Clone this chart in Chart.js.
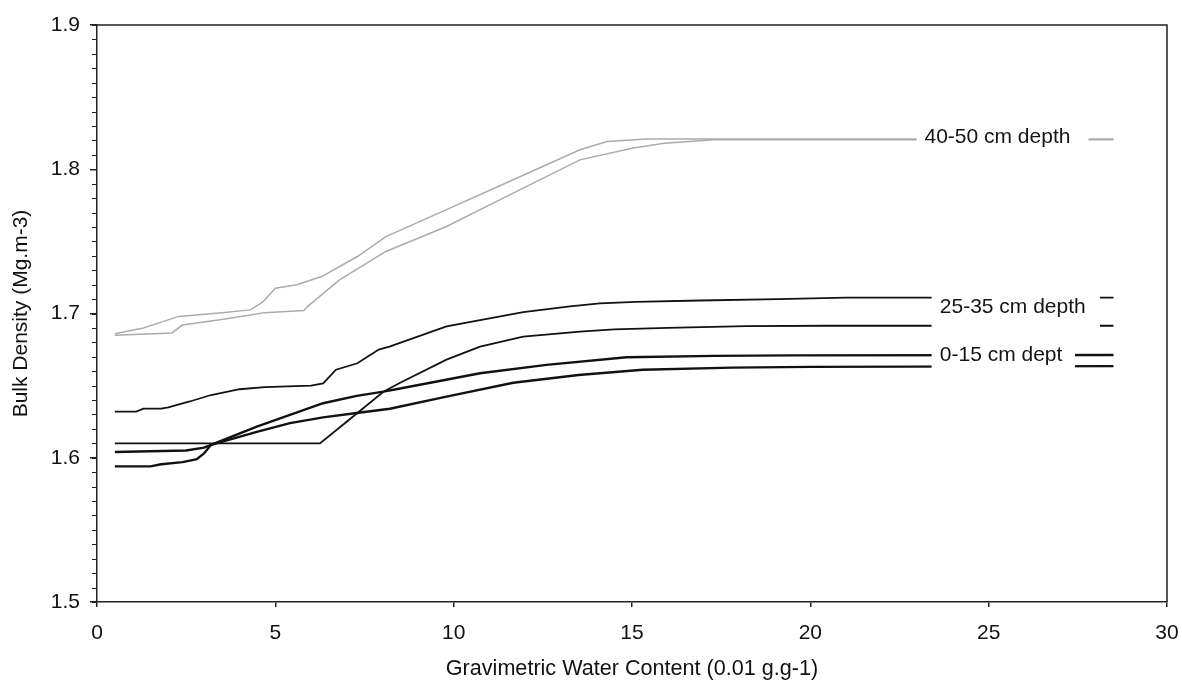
<!DOCTYPE html>
<html>
<head>
<meta charset="utf-8">
<title>Bulk Density vs Gravimetric Water Content</title>
<script src="https://cdn.jsdelivr.net/npm/chart.js@4/dist/chart.umd.min.js"></script>
<style>
  html, body { margin: 0; padding: 0; background: #ffffff; }
  #wrap { width: 1182px; height: 686px; position: relative; }
</style>
</head>
<body>
<div id="wrap"><canvas id="chart" width="1182" height="686"></canvas></div>
<script>
// Gravimetric water content (0.01 g.g-1) and bulk density (Mg.m-3) for each curve

// 40-50 cm depth, two curves
const wc_40_50_a = [0.5, 1.3, 1.8, 2.3, 3.5, 4.3, 4.65, 5.0, 5.6, 6.3, 7.3, 8.1, 9.8, 11.67, 13.54, 14.3, 15.4, 28.5];
const bd_40_50_a = [1.686, 1.690, 1.694, 1.698, 1.7005, 1.7025, 1.708, 1.7175, 1.720, 1.7256, 1.7395, 1.7533, 1.772, 1.7927, 1.8135, 1.8192, 1.821, 1.821];
const wc_40_50_b = [0.5, 2.1, 2.4, 3.4, 4.3, 4.7, 5.8, 5.9, 6.8, 8.1, 9.8, 11.67, 13.54, 15.0, 15.9, 17.3, 28.5];
const bd_40_50_b = [1.685, 1.6865, 1.692, 1.6955, 1.699, 1.7006, 1.702, 1.7048, 1.7233, 1.743, 1.7603, 1.7834, 1.8065, 1.8146, 1.818, 1.8205, 1.8205];

// 25-35 cm depth, two curves
const wc_25_35_a = [0.5, 1.1, 1.3, 1.8, 2.0, 2.6, 3.2, 4.0, 4.7, 6.0, 6.34, 6.7, 7.3, 7.9, 8.2, 9.8, 11.95, 13.26, 14.1, 15.1, 16.9, 19.1, 21.0, 28.5];
const bd_25_35_a = [1.632, 1.632, 1.634, 1.634, 1.635, 1.639, 1.6435, 1.6475, 1.649, 1.650, 1.6515, 1.661, 1.6655, 1.675, 1.677, 1.691, 1.701, 1.705, 1.707, 1.708, 1.709, 1.710, 1.711, 1.711];
const wc_25_35_b = [0.5, 6.25, 7.0, 8.03, 8.5, 9.8, 10.74, 11.95, 13.54, 14.5, 16.0, 18.2, 20.5, 28.5];
const bd_25_35_b = [1.610, 1.610, 1.625, 1.6458, 1.652, 1.668, 1.677, 1.684, 1.6875, 1.689, 1.690, 1.6912, 1.6915, 1.6915];

// 0-15 cm depth, two curves
const wc_0_15_a = [0.5, 1.5, 1.8, 2.4, 2.8, 3.0, 3.2, 4.48, 5.41, 6.34, 7.28, 8.03, 8.5, 10.74, 12.6, 14.85, 17.3, 19.5, 28.5];
const bd_0_15_a = [1.594, 1.594, 1.5955, 1.597, 1.599, 1.603, 1.609, 1.6216, 1.6297, 1.6378, 1.6429, 1.6458, 1.648, 1.6586, 1.6644, 1.6697, 1.6706, 1.671, 1.6712];
const wc_0_15_b = [0.5, 2.5, 3.0, 3.2, 4.48, 5.41, 6.34, 7.28, 8.21, 9.8, 11.67, 13.5, 15.3, 17.8, 20.0, 28.5];
const bd_0_15_b = [1.604, 1.605, 1.607, 1.609, 1.618, 1.624, 1.628, 1.631, 1.634, 1.6424, 1.652, 1.6574, 1.661, 1.6625, 1.663, 1.6635];

// Axis tick labels
const xTickLabels = ['0', '5', '10', '15', '20', '25', '30'];
const yTickLabels = ['1.5', '1.6', '1.7', '1.8', '1.9'];

// Curve labels (placed in data coordinates, with a white box behind them)
const curveLabels = ['40-50 cm depth', '25-35 cm depth', '0-15 cm dept'];

const FONT = '"Liberation Sans", Arial, Helvetica, sans-serif';

function pts(xs, ys) { return xs.map((x, i) => ({ x: x, y: ys[i] })); }

const grey = '#ababab';
const black = '#111111';

function line(label, xs, ys, color, width) {
  return {
    label: label,
    data: pts(xs, ys),
    showLine: true,
    borderColor: color,
    backgroundColor: color,
    borderWidth: width,
    pointRadius: 0,
    pointHoverRadius: 0,
    tension: 0,
    fill: false
  };
}

// White boxed labels over the right-hand end of each pair of curves
const labelPlugin = {
  id: 'curveLabels',
  afterDatasetsDraw(chart, args, opts) {
    const { ctx, scales: { x, y } } = chart;
    ctx.save();
    opts.items.forEach(it => {
      const x0 = x.getPixelForValue(it.box[0]);
      const x1 = x.getPixelForValue(it.box[1]);
      const y0 = y.getPixelForValue(it.box[3]);
      const y1 = y.getPixelForValue(it.box[2]);
      ctx.fillStyle = '#ffffff';
      ctx.fillRect(x0, y0, x1 - x0, y1 - y0);
      ctx.fillStyle = '#151515';
      ctx.font = '21px ' + FONT;
      ctx.textAlign = 'left';
      ctx.textBaseline = 'middle';
      ctx.fillText(it.text, x.getPixelForValue(it.x), y.getPixelForValue(it.y));
    });
    ctx.restore();
  }
};

// Plot frame (top and right edges) and minor ticks on the value axis
const framePlugin = {
  id: 'frame',
  afterDraw(chart, args, opts) {
    const { ctx, chartArea: a, scales: { y } } = chart;
    ctx.save();
    ctx.strokeStyle = '#222222';
    ctx.lineWidth = 1.5;
    ctx.beginPath();
    ctx.moveTo(a.left, a.top);
    ctx.lineTo(a.right, a.top);
    ctx.lineTo(a.right, a.bottom);
    ctx.stroke();
    // minor ticks every 0.01
    ctx.lineWidth = 1.2;
    ctx.beginPath();
    const n = Math.round((y.max - y.min) / opts.minorStep);
    for (let i = 0; i <= n; i++) {
      const py = Math.round(y.getPixelForValue(y.min + i * opts.minorStep)) + 0.5;
      ctx.moveTo(a.left - 5, py);
      ctx.lineTo(a.left, py);
    }
    ctx.stroke();
    ctx.restore();
  }
};

new Chart(document.getElementById('chart'), {
  type: 'scatter',
  data: {
    datasets: [
      line('40-50 cm depth', wc_40_50_a, bd_40_50_a, grey, 1.5),
      line('40-50 cm depth', wc_40_50_b, bd_40_50_b, grey, 1.5),
      line('25-35 cm depth', wc_25_35_a, bd_25_35_a, black, 1.8),
      line('25-35 cm depth', wc_25_35_b, bd_25_35_b, black, 1.8),
      line('0-15 cm dept', wc_0_15_a, bd_0_15_a, black, 2.4),
      line('0-15 cm dept', wc_0_15_b, bd_0_15_b, black, 2.4)
    ]
  },
  options: {
    responsive: false,
    animation: false,
    events: [],
    layout: { padding: { top: 25, right: 15, left: 0, bottom: 0 } },
    plugins: {
      legend: { display: false },
      tooltip: { enabled: false },
      curveLabels: {
        items: [
          { text: curveLabels[0], x: 23.2, y: 1.8221, box: [22.98, 27.8, 1.8125, 1.8305] },
          { text: curveLabels[1], x: 23.63, y: 1.7042, box: [23.4, 28.12, 1.6895, 1.7140] },
          { text: curveLabels[2], x: 23.63, y: 1.6709, box: [23.4, 27.42, 1.6595, 1.6790] }
        ]
      },
      frame: { minorStep: 0.01 }
    },
    scales: {
      x: {
        type: 'linear',
        min: 0,
        max: 30,
        afterFit(s) { s.height = 84; s.paddingLeft = 0; s.paddingRight = 0; },
        ticks: {
          stepSize: 5,
          color: '#111111',
          font: { family: FONT, size: 21 },
          padding: 14,
          maxRotation: 0,
          callback: (v) => xTickLabels[Math.round(v / 5)] ?? ''
        },
        grid: { drawOnChartArea: false, drawTicks: true, tickLength: 5, color: '#222222', lineWidth: 1.5 },
        border: { display: true, color: '#222222', width: 1.5 },
        title: {
          display: true,
          text: 'Gravimetric Water Content (0.01 g.g-1)',
          color: '#111111',
          font: { family: FONT, size: 21.6 },
          padding: { top: 0, bottom: 4 }
        }
      },
      y: {
        type: 'linear',
        min: 1.5,
        max: 1.9,
        afterFit(s) { s.width = 97; s.paddingTop = 0; s.paddingBottom = 0; },
        ticks: {
          stepSize: 0.1,
          color: '#111111',
          font: { family: FONT, size: 21 },
          padding: 10,
          callback: (v) => yTickLabels[Math.round((v - 1.5) * 10)] ?? ''
        },
        grid: { drawOnChartArea: false, drawTicks: true, tickLength: 7, color: '#222222', lineWidth: 1.5 },
        border: { display: true, color: '#222222', width: 1.5 },
        title: {
          display: true,
          text: 'Bulk Density (Mg.m-3)',
          color: '#111111',
          font: { family: FONT, size: 21 },
          padding: { top: 9, bottom: 0 }
        }
      }
    }
  },
  plugins: [labelPlugin, framePlugin]
});
</script>
</body>
</html>
